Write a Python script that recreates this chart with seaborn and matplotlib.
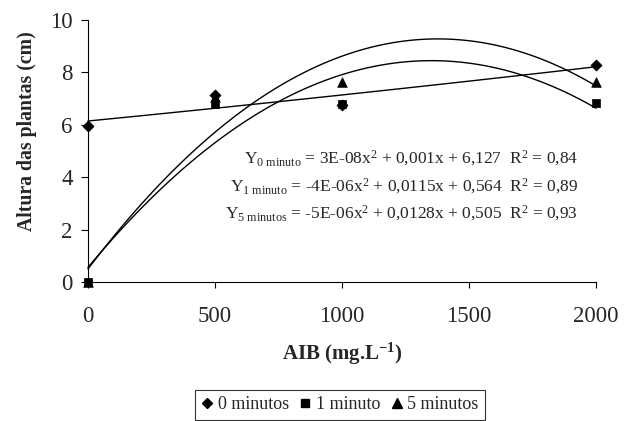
import numpy as np
import pandas as pd
import matplotlib
matplotlib.use("Agg")
import matplotlib.pyplot as plt
from matplotlib.lines import Line2D
import seaborn as sns

# AIB doses (mg.L-1)
doses = [0, 500, 1000, 2000]

# Plant height (cm) per immersion time
h_0min = [5.95, 7.15, 6.75, 8.28]
h_1min = [0.0, 6.80, 6.80, 6.82]
h_5min = [0.0, 7.05, 7.62, 7.65]

series_labels = ["0 minutos", "1 minuto", "5 minutos"]
series_markers = ["D", "s", "^"]
series_sizes = [32, 30, 48]

equations = [
    r"Y$_{\mathrm{0\ minuto}}$ = 3E-08x$^{2}$ + 0,001x + 6,127  R$^{2}$ = 0,84",
    r"Y$_{\mathrm{1\ minuto}}$ = -4E-06x$^{2}$ + 0,0115x + 0,564  R$^{2}$ = 0,89",
    r"Y$_{\mathrm{5\ minutos}}$ = -5E-06x$^{2}$ + 0,0128x + 0,505  R$^{2}$ = 0,93",
]

x_ticks = [0, 500, 1000, 1500, 2000]
y_ticks = [0, 2, 4, 6, 8, 10]

df = pd.DataFrame({
    "dose": doses * 3,
    "altura": h_0min + h_1min + h_5min,
    "tempo": np.repeat(series_labels, len(doses)),
})

sns.set_style("ticks")
plt.rcParams["font.family"] = ["Liberation Serif", "DejaVu Serif"]
plt.rcParams["mathtext.fontset"] = "custom"
plt.rcParams["mathtext.rm"] = "Liberation Serif"
plt.rcParams["mathtext.it"] = "Liberation Serif:italic"
plt.rcParams["mathtext.bf"] = "Liberation Serif:bold"

fig = plt.figure(figsize=(6.31, 4.21), dpi=100)
ax = fig.add_axes([88 / 631, 1 - 282 / 421, (596 - 88) / 631, (282 - 20) / 421])

# second-order trendlines fitted to each series
for lab in series_labels:
    sub = df[df["tempo"] == lab]
    sns.regplot(data=sub, x="dose", y="altura", order=2, ci=None, scatter=False,
                truncate=True, ax=ax,
                line_kws=dict(color="black", lw=1.0, clip_on=False))

# observed means
for lab, mk, sz in zip(series_labels, series_markers, series_sizes):
    sub = df[df["tempo"] == lab]
    sns.scatterplot(data=sub, x="dose", y="altura", marker=mk, s=sz,
                    color="black", edgecolor="black", linewidth=0.5,
                    ax=ax, clip_on=False, zorder=5, legend=False)

ax.set_xlim(0, 2000)
ax.set_ylim(0, 10)
ax.set_xticks(x_ticks)
ax.set_yticks(y_ticks)
ax.set_xticklabels([str(v) for v in x_ticks])
ax.set_yticklabels([str(v) for v in y_ticks])
ax.tick_params(axis="both", labelsize=16.5, color="black", width=0.8,
               direction="out")
ax.tick_params(axis="x", length=4.5, pad=13)
ax.tick_params(axis="y", length=5, pad=6)
ax.set_xlabel("")
ax.set_ylabel("")
sns.despine(ax=ax)
for side in ("left", "bottom"):
    ax.spines[side].set_linewidth(0.8)
    ax.spines[side].set_color("black")

fig.text(342 / 631, 1 - 354 / 421, r"AIB (mg.L$^{\mathbf{-1}}$)",
         ha="center", va="center", fontsize=15, fontweight="bold")
fig.text(27 / 631, 1 - 131 / 421, "Altura das plantas (cm)",
         ha="center", va="center", rotation=90, fontsize=14.2,
         fontweight="bold")

for txt, yp in zip(equations, [158, 186, 213]):
    fig.text(578 / 631, 1 - yp / 421, txt, ha="right", va="center",
             fontsize=12.5)

handles = [Line2D([], [], ls="none", marker=mk, color="black",
                  markersize=ms)
           for mk, ms in zip(series_markers, [5, 5.5, 6.5])]
leg = fig.legend(handles, series_labels, loc="upper center",
                 bbox_to_anchor=(340 / 631, 1 - 390 / 421), ncol=3,
                 frameon=True, fancybox=False, edgecolor="black",
                 fontsize=13, handlelength=0.6, handletextpad=0.3,
                 columnspacing=0.6, borderpad=0.35, borderaxespad=0)
leg.get_frame().set_linewidth(0.8)

fig.savefig("out.png", dpi=100)
